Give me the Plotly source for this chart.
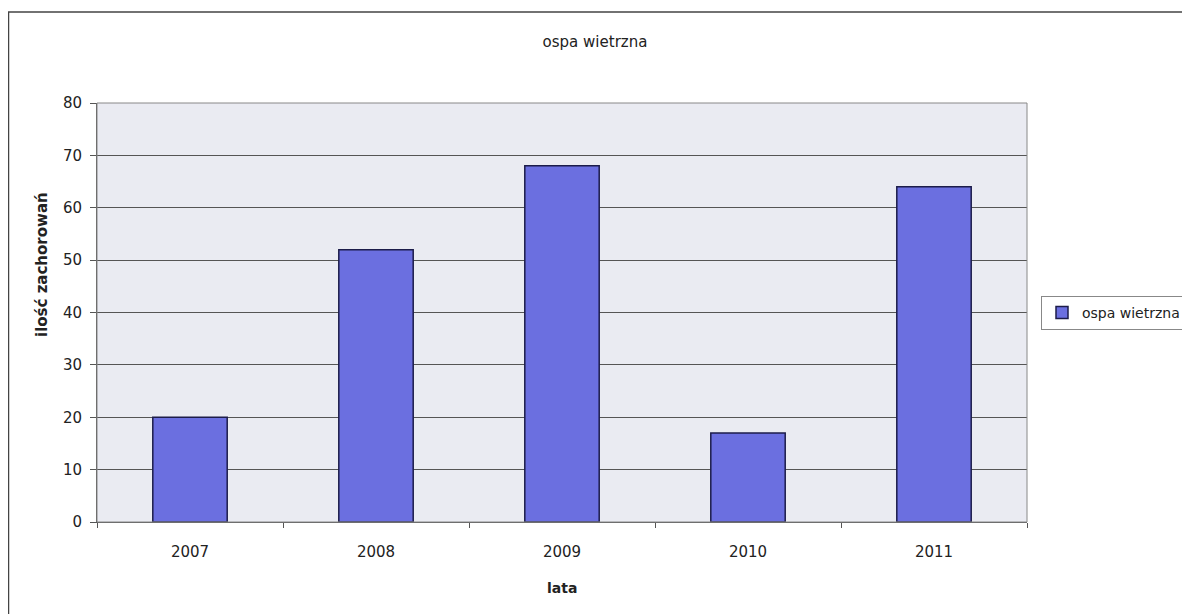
import plotly.graph_objects as go

years = ["2007", "2008", "2009", "2010", "2011"]
cases = [20, 52, 68, 17, 64]
series_name = "ospa wietrzna"
chart_title = "ospa wietrzna"
x_title = "lata"
y_title = "ilość zachorowań"
y_ticks = [0, 10, 20, 30, 40, 50, 60, 70, 80]

font_family = "DejaVu Sans, Liberation Sans, Arial, sans-serif"

# plot area in figure pixels
L, R, T, B = 89, 1019, 95, 514
W, H = 1190, 614
PW, PH = R - L, B - T


def px(x):
    return (x - L) / PW


def py(y):
    return (B - y) / PH


fig = go.Figure()
fig.add_trace(go.Bar(
    x=years, y=cases, name=series_name,
    marker=dict(color="#6b6fe0", line=dict(color="#1c1c4a", width=1.5)),
))

fig.update_layout(
    width=W, height=H,
    margin=dict(l=L, r=W - R, t=T, b=H - B, autoexpand=False),
    paper_bgcolor="white",
    plot_bgcolor="#eaebf2",
    bargap=0.6,
    showlegend=True,
    font=dict(family=font_family, color="#222222", size=14),
    title=dict(text=chart_title, x=587 / W, xanchor="center",
               y=1 - 34 / H, yanchor="middle",
               font=dict(size=15, family=font_family)),
    legend=dict(x=px(1033), xanchor="left", y=py(305), yanchor="middle",
                bordercolor="#888888", borderwidth=1, bgcolor="white",
                font=dict(size=14), itemwidth=30),
    xaxis=dict(
        showline=True, linecolor="#555555", linewidth=1,
        ticks="outside", tickson="boundaries", ticklen=5, tickcolor="#555555",
        showgrid=False, tickfont=dict(size=15), ticklabelstandoff=16,
    ),
    yaxis=dict(
        range=[0, 80], tickvals=y_ticks,
        showline=True, linecolor="#555555", linewidth=1,
        ticks="outside", ticklen=6, tickcolor="#555555",
        showgrid=True, gridcolor="#555555", gridwidth=1,
        zeroline=False, tickfont=dict(size=15), ticklabelstandoff=5,
    ),
    annotations=[
        dict(text="<b>" + y_title + "</b>", xref="paper", yref="paper",
             x=px(34), y=py(257), xanchor="center", yanchor="middle",
             textangle=-90, showarrow=False, font=dict(size=15)),
        dict(text="<b>" + x_title + "</b>", xref="paper", yref="paper",
             x=px(554), y=py(580), xanchor="center", yanchor="middle",
             showarrow=False, font=dict(size=14)),
    ],
    shapes=[
        dict(type="rect", xref="paper", yref="paper",
             x0=px(0.5), x1=px(1181), y0=py(640), y1=py(4),
             line=dict(color="#444444", width=1.5), fillcolor="rgba(0,0,0,0)",
             layer="below"),
        dict(type="rect", xref="paper", yref="paper",
             x0=0, x1=1, y0=0, y1=1,
             line=dict(color="#888888", width=1), fillcolor="rgba(0,0,0,0)",
             layer="above"),
    ],
)

fig.write_html("out.html")
